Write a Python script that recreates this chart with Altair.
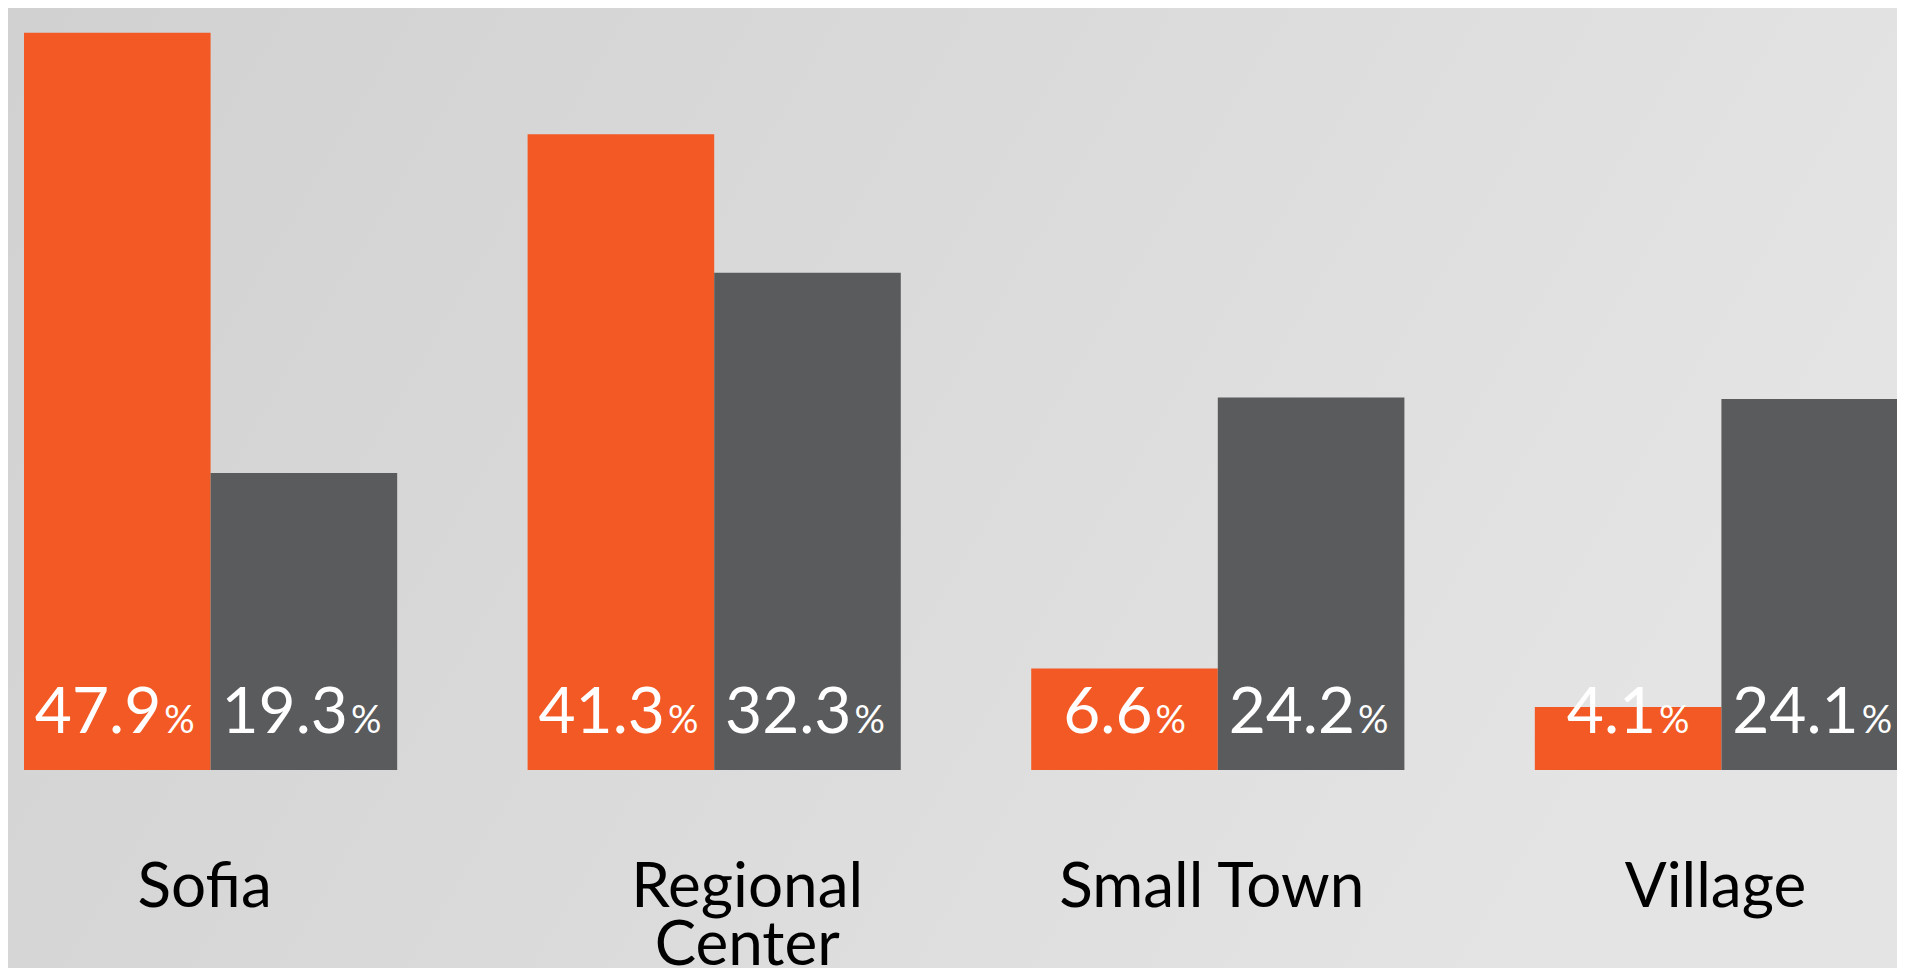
import altair as alt
import pandas as pd

# ---- data ----
categories = ["Sofia", "Regional Center", "Small Town", "Village"]
series = ["Series 1", "Series 2"]
series1_values = [47.9, 41.3, 6.6, 4.1]
series2_values = [19.3, 32.3, 24.2, 24.1]
series_colors = ["#F35924", "#5A5B5D"]

rows = []
for i, c in enumerate(categories):
    rows.append({"Category": c, "Series": series[0], "Value": series1_values[i]})
    rows.append({"Category": c, "Series": series[1], "Value": series2_values[i]})
df = pd.DataFrame(rows)

W, H = 1889, 762
FONT = "Lato"

x_enc = alt.X(
    "Category:N",
    sort=categories,
    scale=alt.Scale(range=[16, 1900], paddingInner=0.259, paddingOuter=0),
    axis=alt.Axis(
        title=None, domain=False, ticks=False, tickSize=0, grid=False,
        labelFont=FONT, labelFontSize=62, labelColor="#000000",
        labelPadding=136, labelBaseline="alphabetic", labelLineHeight=58,
        labelAngle=0, labelLimit=0, labelOverlap=False, zindex=2,
        labelExpr="datum.label == 'Regional Center' ? ['Regional', 'Center'] : datum.label",
        labelOffset={"condition": {"test": "datum.label == 'Regional Center'", "value": 33}, "value": -6},
    ),
)
xo_enc = alt.XOffset("Series:N", sort=series)
y_scale = alt.Scale(domain=[0, 49.5], nice=False)

bg = alt.Chart(alt.Data(values=[{"k": 1}])).mark_rect(
    color=alt.LinearGradient(
        gradient="linear", x1=0, y1=0, x2=1, y2=0.3,
        stops=[alt.GradientStop(color="#D1D1D1", offset=0),
               alt.GradientStop(color="#DADADA", offset=0.5),
               alt.GradientStop(color="#E4E4E4", offset=1)],
    ),
    strokeWidth=0,
).encode(x=alt.value(0), x2=alt.value(W), y=alt.value(0), y2=alt.value(960))

base = alt.Chart(df)

bars = base.mark_bar(strokeWidth=0).encode(
    x=x_enc,
    xOffset=xo_enc,
    y=alt.Y("Value:Q", scale=y_scale, axis=None),
    color=alt.Color("Series:N", scale=alt.Scale(domain=series, range=series_colors), legend=None),
)

labeled = base.transform_calculate(Label="format(datum.Value, '.1f')")

nums = labeled.mark_text(
    font=FONT, fontSize=64, fontWeight=400, color="white",
    align="right", baseline="alphabetic", dy=-37,
    dx={"expr": "length(datum.Label) > 3 ? 44 : 28"},
).encode(x=alt.X("Category:N", sort=categories), xOffset=xo_enc,
         y=alt.datum(0), text="Label:N")

pct = labeled.mark_text(
    font=FONT, fontSize=38, fontWeight=400, color="white",
    align="left", baseline="alphabetic", dy=-37,
    dx={"expr": "length(datum.Label) > 3 ? 47 : 31"},
).encode(x=alt.X("Category:N", sort=categories), xOffset=xo_enc,
         y=alt.datum(0), text=alt.value("%"))

chart = alt.layer(bg, bars, nums, pct).properties(
    width=W, height=H,
    autosize=alt.AutoSizeParams(type="none"),
    padding={"left": 0, "top": 0, "right": 0, "bottom": 198},
    background="#D9D9D9",
).configure_view(stroke=None)

chart.save("out.html", embed_options={"renderer": "svg", "actions": False})
